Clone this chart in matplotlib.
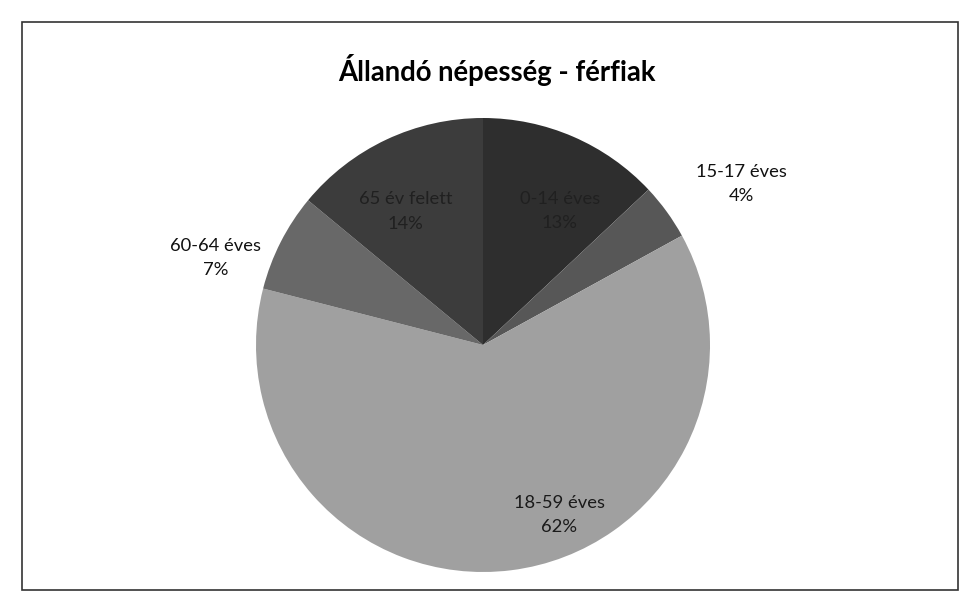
import numpy as np
import matplotlib.pyplot as plt
from matplotlib.patches import Rectangle

# ── ADATOK ────────────────────────────────────────────────────────────────────
cimkek = ["0-14 éves", "15-17 éves", "18-59 éves", "60-64 éves", "65 év felett"]
ertekek = [13, 4, 62, 7, 14]
szinek = ["#2e2e2e", "#575757", "#a0a0a0", "#686868", "#3c3c3c"]
szovegszin = ["#202020", "#111111", "#1a1a1a", "#111111", "#202020"]

# címke helye: sugár és elforgatás az óramutató irányában (fok)
tavolsag = [0.68, 1.34, 0.82, 1.24, 0.68]
eltolas = [6.5, 4, -17, -9, -5]

plt.rcParams['font.family'] = ['Lato', 'DejaVu Sans']

fig = plt.figure(figsize=(9.64, 6.06), dpi=100)
fig.patch.set_facecolor("white")

# keret
fig.patches.append(Rectangle((22 / 964, 16 / 606), 936 / 964, 568 / 606,
                             transform=fig.transFigure, fill=False,
                             edgecolor="#333333", linewidth=1.2))

fig.text(497 / 964, 1 - 70 / 606, "Állandó népesség - férfiak",
         ha="center", va="center", fontsize=19.8, fontweight="bold")

# tortadiagram
ax = fig.add_axes([256 / 964, 34 / 606, 454 / 964, 454 / 606])
wedges, _ = ax.pie(ertekek, colors=szinek, startangle=90, counterclock=False,
                   wedgeprops=dict(edgecolor="none"))
ax.set_xlim(-1, 1)
ax.set_ylim(-1, 1)
ax.set_aspect("equal")

for w, nev, ert, d, s, sz in zip(wedges, cimkek, ertekek, tavolsag, eltolas, szovegszin):
    szog = np.deg2rad((w.theta1 + w.theta2) / 2 - s)
    ax.text(d * np.cos(szog), d * np.sin(szog), f"{nev}\n{ert}%",
            ha="center", va="center", fontsize=13.2, color=sz,
            linespacing=1.65)

fig.savefig("out.png", dpi=100)
